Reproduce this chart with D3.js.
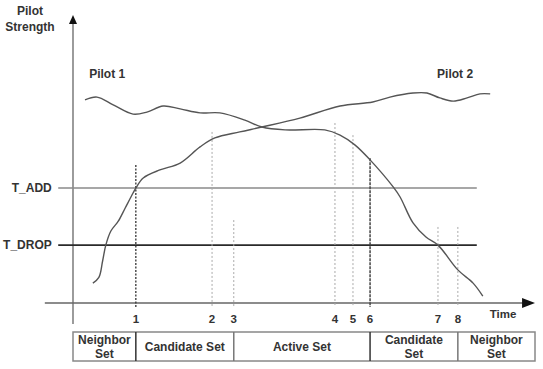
<!DOCTYPE html>
<html>
<head>
<meta charset="utf-8">
<script src="https://cdn.jsdelivr.net/npm/d3@7"></script>
<style>
  body { margin: 0; background: #fff; }
  text { font-family: "Liberation Sans", Arial, sans-serif; font-weight: bold; fill: #333; }
</style>
</head>
<body>
<div id="chart"></div>
<script>
// time (0-100) / pilot strength (0-100)
const pilot1 = [
  [2.6, 70.5], [5.2, 71.5], [8.7, 68.8], [13.0, 65.6], [16.0, 66.3], [19.5, 68.4],
  [23.2, 67.4], [27.5, 66.0], [31.8, 66.0], [37.2, 63.5], [40.9, 61.1], [45.9, 60.1],
  [54.5, 60.1], [57.8, 58.3], [61.0, 54.9], [64.3, 49.7], [69.3, 40.3], [70.8, 36.8],
  [73.6, 27.8], [76.4, 22.9], [79.0, 20.1], [83.3, 11.5], [86.6, 6.9], [88.7, 2.4]
];
const pilot2 = [
  [4.3, 6.9], [5.6, 8.9], [6.4, 14.5], [7.1, 20.1], [8.2, 25.0], [9.8, 28.4],
  [11.3, 33.0], [13.0, 38.2], [13.6, 39.9], [15.2, 43.4], [18.8, 46.2], [23.2, 48.6],
  [27.5, 54.2], [30.7, 57.3], [36.1, 59.4], [40.9, 61.1], [49.1, 64.2], [57.8, 68.4],
  [64.9, 69.8], [68.6, 71.5], [73.6, 72.9], [76.6, 72.9], [79.4, 71.2], [82.3, 70.1],
  [85.3, 71.2], [88.1, 72.6], [90.3, 72.6]
];

// thresholds
const thresholds = [
  { name: "T_ADD", value: 39.9, color: "#8a8a8a", width: 1.5 },
  { name: "T_DROP", value: 20.1, color: "#2a2a2a", width: 1.6 }
];

// numbered events on the time axis
const eventLabels = ["1", "2", "3", "4", "5", "6", "7", "8"];
const eventTimes = [13.6, 30.1, 34.8, 56.7, 60.6, 64.3, 79.0, 83.3];
const eventTops = [47.9, 59.4, 28.8, 62.5, 58.3, 50.3, 26.4, 26.4];
const eventStyles = ["dark", "light", "light", "light", "light", "solid", "light", "light"];

// set table under the axis
const setNames = [["Neighbor", "Set"], ["Candidate Set"], ["Active Set"], ["Candidate", "Set"], ["Neighbor", "Set"]];
const setBounds = [0, 13.6, 34.8, 64.3, 83.3, 100];

const W = 543, H = 369;
const svg = d3.select("#chart").append("svg").attr("width", W).attr("height", H);

const x = d3.scaleLinear().domain([0, 100]).range([73, 535]);
const y = d3.scaleLinear().domain([0, 100]).range([303, 15]);

// 坐标轴
svg.append("line")
  .attr("x1", x(-6.1)).attr("x2", x(97.5))
  .attr("y1", y(0)).attr("y2", y(0))
  .attr("stroke", "#666").attr("stroke-width", 1.5);
svg.append("path")
  .attr("d", `M${x(100)},${y(0)} L${x(97.2)},${y(0) - 5} L${x(97.2)},${y(0) + 5} Z`)
  .attr("fill", "#111");

svg.append("line")
  .attr("x1", x(0)).attr("x2", x(0))
  .attr("y1", y(-7.3)).attr("y2", y(97))
  .attr("stroke", "#666").attr("stroke-width", 1.3);
svg.append("path")
  .attr("d", `M${x(0)},${y(100)} L${x(0) - 4},${y(96.9)} L${x(0) + 4},${y(96.9)} Z`)
  .attr("fill", "#111");

svg.append("text").attr("x", 30).attr("y", 15).attr("text-anchor", "middle")
  .style("font-size", "12px").text("Pilot");
svg.append("text").attr("x", 30).attr("y", 31).attr("text-anchor", "middle")
  .style("font-size", "12px").text("Strength");
svg.append("text").attr("x", x(93.1)).attr("y", y(-5.2)).attr("text-anchor", "middle")
  .style("font-size", "11.5px").text("Time");

// 门限线
thresholds.forEach(t => {
  svg.append("line")
    .attr("x1", x(-3.2)).attr("x2", x(87.4))
    .attr("y1", y(t.value)).attr("y2", y(t.value))
    .attr("stroke", t.color).attr("stroke-width", t.width);
  svg.append("text")
    .attr("x", x(-4.6)).attr("y", y(t.value) + 4)
    .attr("text-anchor", "end")
    .style("font-size", "12px")
    .text(t.name);
});

// 事件竖线
const styleMap = {
  dark: { color: "#333", dash: "2,1.5", width: 1.3 },
  light: { color: "#aaa", dash: "2,2", width: 1 },
  solid: { color: "#444", dash: "3,1", width: 1.5 }
};
eventTimes.forEach((t, i) => {
  const s = styleMap[eventStyles[i]];
  svg.append("line")
    .attr("x1", x(t)).attr("x2", x(t))
    .attr("y1", y(eventTops[i])).attr("y2", y(-1.4))
    .attr("stroke", s.color).attr("stroke-width", s.width)
    .attr("stroke-dasharray", s.dash);
  svg.append("text")
    .attr("x", x(t)).attr("y", y(-7.1))
    .attr("text-anchor", "middle")
    .style("font-size", "11.5px")
    .text(eventLabels[i]);
});

// 导频曲线
const line = d3.line()
  .x(d => x(d[0]))
  .y(d => y(d[1]))
  .curve(d3.curveCatmullRom.alpha(0.5));

[pilot1, pilot2].forEach(p => {
  svg.append("path")
    .datum(p)
    .attr("fill", "none")
    .attr("stroke", "#555")
    .attr("stroke-width", 1.4)
    .attr("d", line);
});

svg.append("text").attr("x", x(7.4)).attr("y", y(78.1)).attr("text-anchor", "middle")
  .style("font-size", "12px").text("Pilot 1");
svg.append("text").attr("x", x(82.7)).attr("y", y(78.1)).attr("text-anchor", "middle")
  .style("font-size", "12px").text("Pilot 2");

// 集合表格
const tableTop = 332, tableBottom = 361;
svg.append("rect")
  .attr("x", x(setBounds[0])).attr("y", tableTop)
  .attr("width", x(setBounds[setBounds.length - 1]) - x(setBounds[0]))
  .attr("height", tableBottom - tableTop)
  .attr("fill", "none").attr("stroke", "#888").attr("stroke-width", 1.5);

setBounds.slice(1, -1).forEach((b, i) => {
  svg.append("line")
    .attr("x1", x(b)).attr("x2", x(b))
    .attr("y1", tableTop).attr("y2", tableBottom)
    .attr("stroke", i === 0 || i === 2 ? "#333" : "#777")
    .attr("stroke-width", 1.5);
});

setNames.forEach((lines, i) => {
  const cx = (x(setBounds[i]) + x(setBounds[i + 1])) / 2;
  const cy = (tableTop + tableBottom) / 2;
  lines.forEach((l, j) => {
    svg.append("text")
      .attr("x", cx)
      .attr("y", cy + 4 + (j - (lines.length - 1) / 2) * 14)
      .attr("text-anchor", "middle")
      .style("font-size", "12px")
      .text(l);
  });
});
</script>
</body>
</html>
